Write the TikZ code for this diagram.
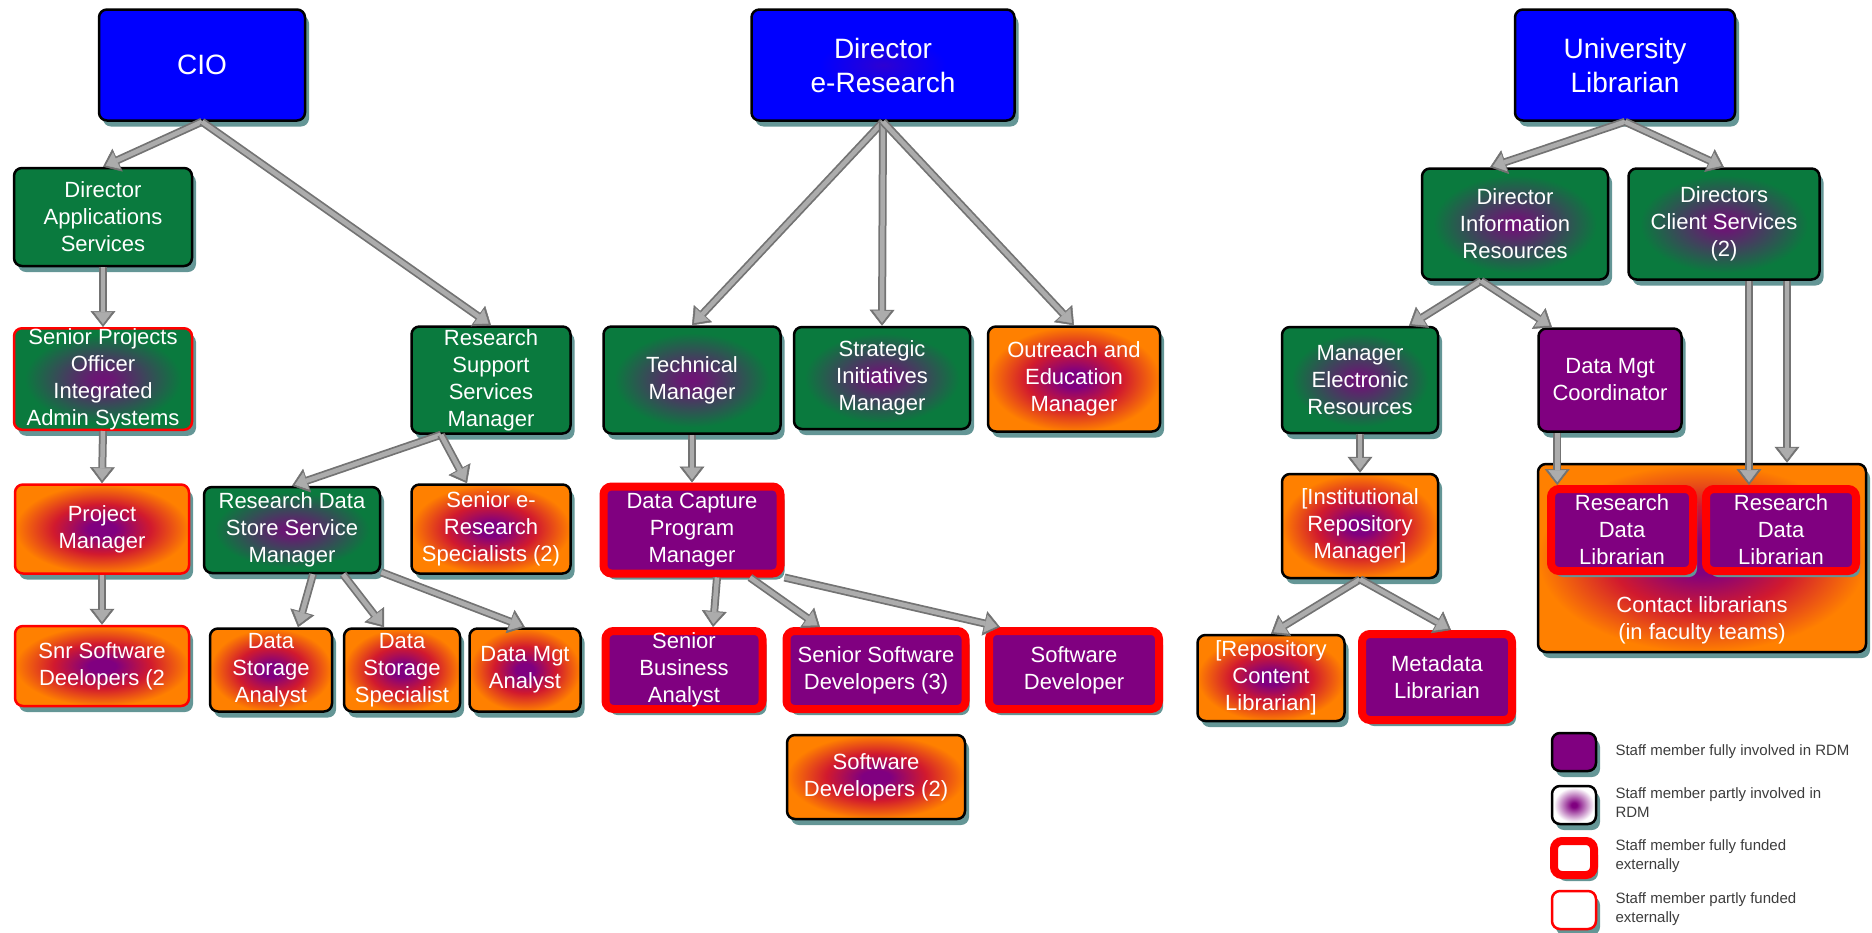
\documentclass[tikz,border=0pt]{standalone}
\usepackage{fontspec}
\setmainfont{Liberation Sans}
\usetikzlibrary{arrows.meta,shadows}
\definecolor{rdmblue}{RGB}{0,0,255}
\definecolor{rdmgreen}{RGB}{10,122,62}
\definecolor{rdmorange}{RGB}{255,128,0}
\definecolor{rdmpurple}{RGB}{128,0,128}
\definecolor{rdmred}{RGB}{255,0,0}
\definecolor{shadowteal}{RGB}{100,150,150}
\definecolor{legendgray}{RGB}{60,60,60}
\pgfdeclareradialshading{orangespot}{\pgfpoint{0bp}{0bp}}{color(0bp)=(rdmpurple); color(4bp)=(rdmpurple); color(14bp)=(rdmred!55!rdmpurple!80!rdmorange); color(25bp)=(rdmorange); color(50bp)=(rdmorange)}
\pgfdeclareradialshading{greenspot}{\pgfpoint{0bp}{0bp}}{color(0bp)=(rdmpurple!85!rdmgreen); color(3bp)=(rdmpurple!80!rdmgreen); color(22bp)=(rdmgreen); color(50bp)=(rdmgreen)}
\pgfdeclareradialshading{bluespot}{\pgfpoint{0bp}{0bp}}{color(0bp)=(rdmpurple!35!rdmblue); color(12bp)=(rdmblue); color(50bp)=(rdmblue)}
\pgfdeclareradialshading{whitespot}{\pgfpoint{0bp}{0bp}}{color(0bp)=(rdmpurple); color(3bp)=(rdmpurple); color(23bp)=(white); color(50bp)=(white)}

\begin{document}
\begin{tikzpicture}[x=1pt, y=-1pt,
        box/.style={shape=rectangle, rounded corners=8pt, draw=black, line width=2.5pt, text=white, align=center, inner sep=0pt, font=\fontsize{22}{27}\selectfont, drop shadow={shadow xshift=4pt, shadow yshift=-6pt, fill=shadowteal, opacity=1}},
        boxsize/.style 2 args={minimum width=#1pt, minimum height=#2pt},
        topfont/.style={font=\fontsize{28}{34}\selectfont},
        bluebox/.style={box, topfont, fill=rdmblue},
        bluespotbox/.style={box, topfont, shade, shading=bluespot},
        greenbox/.style={box, fill=rdmgreen},
        greenspotbox/.style={box, shade, shading=greenspot},
        orangespotbox/.style={box, shade, shading=orangespot},
        purplebox/.style={box, fill=rdmpurple},
        fullred/.style={draw=rdmred, line width=8pt},
        partred/.style={draw=rdmred},
        legendtext/.style={anchor=west, align=left, text=legendgray, font=\fontsize{15}{19}\selectfont},
        grayarrow/.style={draw=black!55, line width=8pt, -{Triangle[length=16pt,width=25pt,line width=0.5pt]},
          postaction={draw=gray!65, line width=4.5pt, -{Triangle[length=12pt,width=18pt,line width=0.5pt]}, shorten >=3pt}}]
        \useasboundingbox (0,0) rectangle (1872,932);
        % Top level
        \node[bluebox, boxsize={206}{111}] (cio) at (202,65) {CIO};
        \node[bluespotbox, boxsize={263}{111}] (der) at (883,65) {Director\\e-Research};
        \node[bluebox, boxsize={220}{111}] (ul) at (1625,65) {University\\Librarian};
        % CIO side
        \node[greenbox, boxsize={178}{98}] (das) at (103,217) {Director\\Applications\\Services};
        \node[greenspotbox, partred, boxsize={178}{99}] (spo) at (103,379) {Senior Projects\\Officer\\Integrated\\Admin Systems};
        \node[orangespotbox, partred, boxsize={174}{89}] (pm) at (102,529) {Project\\Manager};
        \node[orangespotbox, partred, boxsize={174}{80}] (snrsw) at (102,666) {Snr Software\\Deelopers (2};
        \node[greenbox, boxsize={159}{107}] (rssm) at (491,380) {Research\\Support\\Services\\Manager};
        \node[greenspotbox, boxsize={176}{86}] (rdssm) at (292,530) {Research Data\\Store Service\\Manager};
        \node[orangespotbox, boxsize={159}{89}] (sers) at (491,529) {Senior e-\\Research\\Specialists (2)};
        \node[orangespotbox, boxsize={122}{83}] (dsa) at (271,670) {Data\\Storage\\Analyst};
        \node[orangespotbox, boxsize={116}{83}] (dss) at (402,670) {Data\\Storage\\Specialist};
        \node[orangespotbox, boxsize={111}{83}] (dma) at (525,670) {Data Mgt\\Analyst};
        % e-Research side
        \node[greenspotbox, boxsize={177}{107}] (tm) at (692,380) {Technical\\Manager};
        \node[greenspotbox, boxsize={176}{102}] (sim) at (882,378) {Strategic\\Initiatives\\Manager};
        \node[orangespotbox, boxsize={172}{105}] (oem) at (1074,379) {Outreach and\\Education\\Manager};
        \node[purplebox, fullred, boxsize={177}{87}] (dcpm) at (692,530) {Data Capture\\Program\\Manager};
        \node[purplebox, fullred, boxsize={157}{78}] (sba) at (684,670) {Senior\\Business\\Analyst};
        \node[purplebox, fullred, boxsize={179}{78}] (ssd) at (876,670) {Senior Software\\Developers (3)};
        \node[purplebox, fullred, boxsize={170}{78}] (swdev) at (1074,670) {Software\\Developer};
        \node[orangespotbox, boxsize={178}{84}] (swdevs) at (876,777) {Software\\Developers (2)};
        % Library side
        \node[greenspotbox, boxsize={186}{111}] (dir) at (1515,224) {Director\\Information\\Resources};
        \node[greenspotbox, boxsize={191}{111}] (dcs) at (1724,224) {Directors\\Client Services\\(2)};
        \node[greenspotbox, boxsize={156}{106}] (mer) at (1360,380) {Manager\\Electronic\\Resources};
        \node[purplebox, boxsize={143}{103}] (dmc) at (1610,380) {Data Mgt\\Coordinator};
        \node[orangespotbox, boxsize={156}{104}] (irm) at (1360,526) {[Institutional\\Repository\\Manager]};
        \node[orangespotbox, boxsize={328}{188}] (cl) at (1702,558) {};
        \node[text=white, align=center, font=\fontsize{22}{27}\selectfont] (cltext) at (1702,620) {Contact librarians\\(in faculty teams)};
        \node[purplebox, fullred, boxsize={142}{82}] (rdl1) at (1622,530) {Research\\Data\\Librarian};
        \node[purplebox, fullred, boxsize={150}{82}] (rdl2) at (1781,530) {Research\\Data\\Librarian};
        \node[orangespotbox, boxsize={147}{86}] (rcl) at (1271,678) {[Repository\\Content\\Librarian]};
        \node[purplebox, fullred, boxsize={150}{86}] (ml) at (1437,677) {Metadata\\Librarian};
        % Arrows
        \draw[grayarrow] (cio.south) -- (das.north);
        \draw[grayarrow] (cio.south) -- (rssm.north);
        \draw[grayarrow] (das.south) -- (spo.north);
        \draw[grayarrow] (spo.south) -- (pm.north);
        \draw[grayarrow] (pm.south) -- (snrsw.north);
        \draw[grayarrow] ([xshift=-50pt]rssm.south) -- (rdssm.north);
        \draw[grayarrow] ([xshift=-50pt]rssm.south) -- ([xshift=-24pt]sers.north);
        \draw[grayarrow] ([xshift=21pt]rdssm.south) -- ([xshift=27pt]dsa.north);
        \draw[grayarrow] ([xshift=51pt]rdssm.south) -- ([xshift=-18pt]dss.north);
        \draw[grayarrow] ([yshift=2pt]rdssm.south east) -- (dma.north);
        \draw[grayarrow] (der.south) -- (tm.north);
        \draw[grayarrow] (der.south) -- (sim.north);
        \draw[grayarrow] (der.south) -- (oem.north);
        \draw[grayarrow] (tm.south) -- (dcpm.north);
        \draw[grayarrow] ([xshift=25pt]dcpm.south) -- ([xshift=29pt]sba.north);
        \draw[grayarrow] ([xshift=58pt]dcpm.south) -- ([xshift=-56pt]ssd.north);
        \draw[grayarrow] (dcpm.south east) -- ([xshift=15pt]swdev.north west);
        \draw[grayarrow] (ul.south) -- ([xshift=-25pt]dir.north);
        \draw[grayarrow] (ul.south) -- (dcs.north);
        \draw[grayarrow] ([xshift=-34pt]dir.south) -- ([xshift=49pt]mer.north);
        \draw[grayarrow] ([xshift=-34pt]dir.south) -- ([xshift=-58pt]dmc.north);
        \draw[grayarrow] (mer.south) -- (irm.north);
        \draw[grayarrow] (irm.south) -- (rcl.north);
        \draw[grayarrow] (irm.south) -- ([xshift=14pt]ml.north);
        \draw[grayarrow] ([xshift=20pt]dmc.south west) -- ([xshift=20pt]dmc.south west |- rdl1.north);
        \draw[grayarrow] ([xshift=25pt]dcs.south) -- ([xshift=25pt]dcs.south |- rdl2.north);
        \draw[grayarrow] ([xshift=63pt]dcs.south) -- ([xshift=63pt]dcs.south |- cl.north);
        %% Legend
        \node[purplebox, boxsize={44}{38}] (leg1) at (1574,752) {};
        \node[box, shade, shading=whitespot, boxsize={44}{38}] (leg2) at (1574,805) {};
        \node[box, fullred, fill=white, boxsize={40}{34}] (leg3) at (1574,858) {};
        \node[box, partred, fill=white, boxsize={44}{38}] (leg4) at (1574,910) {};
        \node[legendtext] (leg1text) at (1612,752) {Staff member fully involved in RDM};
        \node[legendtext] (leg2text) at (1612,803) {Staff member partly involved in\\RDM};
        \node[legendtext] (leg3text) at (1612,856) {Staff member fully funded\\externally};
        \node[legendtext] (leg4text) at (1612,909) {Staff member partly funded\\externally};
\end{tikzpicture}
\end{document}
